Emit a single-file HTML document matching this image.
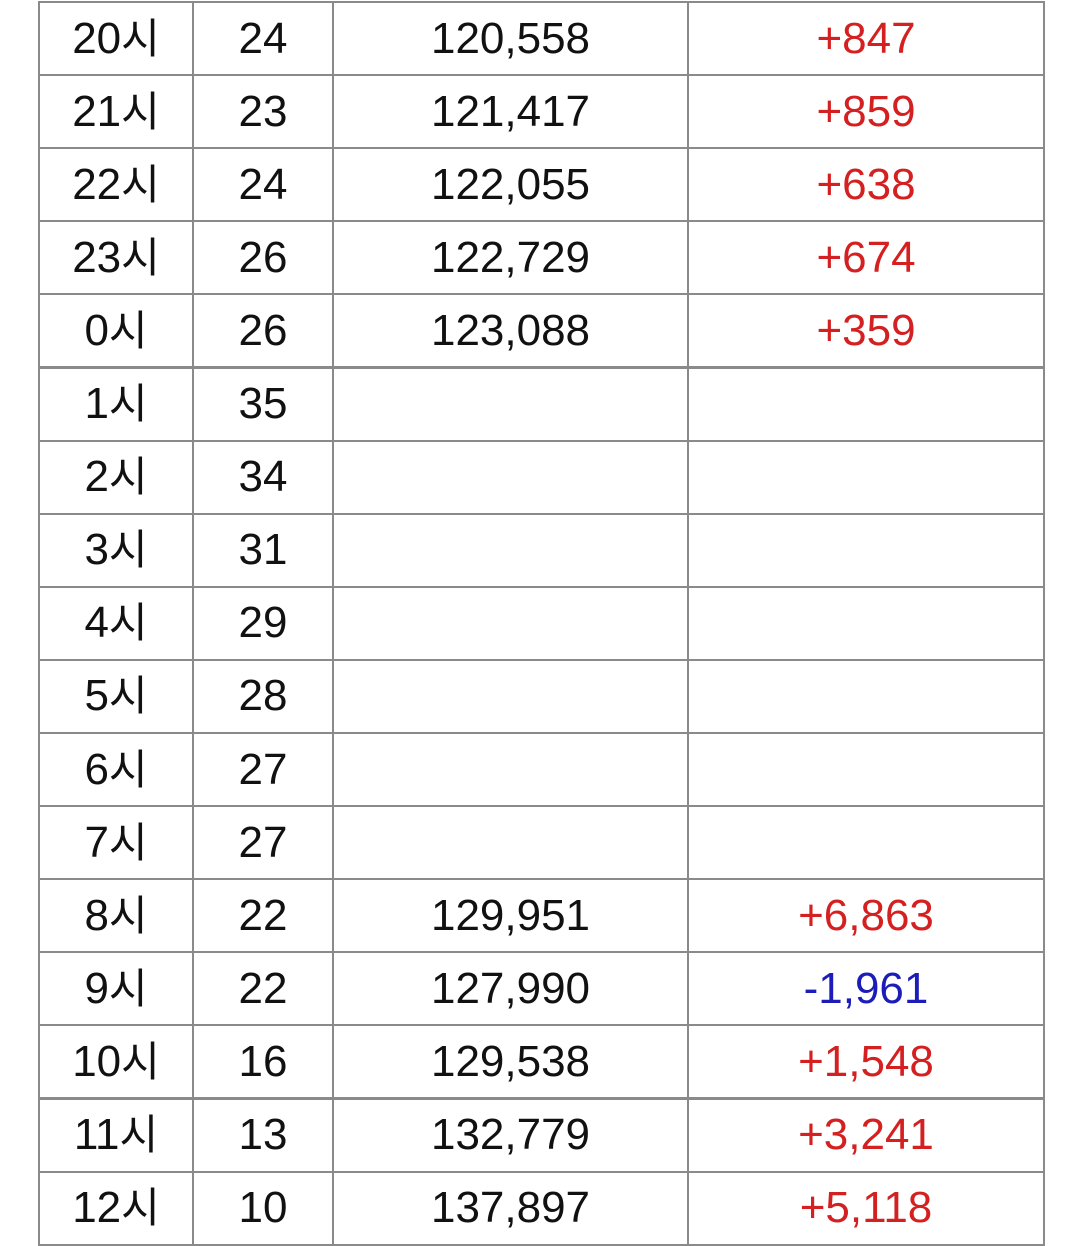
<!DOCTYPE html>
<html><head><meta charset="utf-8"><style>
body{margin:0;width:1080px;height:1238px;background:#fff;overflow:hidden;position:relative;font-family:"Liberation Sans","Noto Sans CJK KR",sans-serif;}
.cell{position:absolute;box-sizing:border-box;border:2px solid #8a8a8a;display:flex;align-items:center;justify-content:center;font-size:44px;color:#111;line-height:1;}
.k{position:relative;top:-3px;font-family:"Noto Sans CJK KR",sans-serif;font-size:42px;}
.r{color:#d42020}.b{color:#1c1cb8}
</style></head><body>
<div id="t"></div>
<script>
const hours=["20","21","22","23","0","1","2","3","4","5","6","7","8","9","10","11","12"];
const counts=["24","23","24","26","26","35","34","31","29","28","27","27","22","22","16","13","10"];
const totals=["120,558","121,417","122,055","122,729","123,088","","","","","","","","129,951","127,990","129,538","132,779","137,897"];
const diffs=["+847","+859","+638","+674","+359","","","","","","","","+6,863","-1,961","+1,548","+3,241","+5,118"];
const cols=[38,192,332,687,1043];
const top0=1,rh=73.1;
const t=document.getElementById('t');
const names=['hour-cell','count-cell','total-cell','change-cell'];
for(let i=0;i<hours.length;i++){
  const vals=[hours[i],counts[i],totals[i],diffs[i]];
  for(let c=0;c<4;c++){
    const d=document.createElement('div');
    d.className='cell';
    if(c===3){d.classList.add(vals[c].startsWith('-')?'b':'r');}
    d.style.left=cols[c]+'px';
    d.style.width=(cols[c+1]-cols[c]+2)+'px';
    d.style.top=(top0+i*rh)+'px';
    d.style.height=(rh+2)+'px';
    if(c===0){
      d.appendChild(document.createTextNode(vals[c]));
      const s=document.createElement('span');
      s.className='k';
      s.textContent='시';
      d.appendChild(s);
    } else {
      d.textContent=vals[c];
    }
    
    
    t.appendChild(d);
  }
}
</script>
</body></html>
